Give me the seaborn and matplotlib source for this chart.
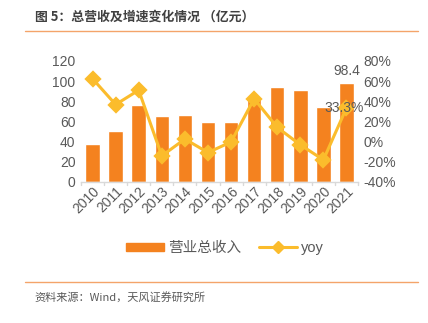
import matplotlib
matplotlib.use("Agg")
import matplotlib.pyplot as plt
from matplotlib.lines import Line2D
from matplotlib.patches import Patch
import seaborn as sns
import pandas as pd

years = ["2010", "2011", "2012", "2013", "2014", "2015",
         "2016", "2017", "2018", "2019", "2020", "2021"]
revenue = [37.4, 50.7, 76.4, 65.0, 66.4, 59.4, 59.0, 83.0, 94.0, 91.0, 73.8, 98.4]
yoy = [62.4, 36.7, 51.0, -14.3, 2.4, -11.0, -0.5, 42.4, 14.0, -3.3, -18.3, 33.3]
right_ticks = [-40, -20, 0, 20, 40, 60, 80]

sns.set_theme(style="white")
plt.rcParams["font.family"] = ["Liberation Sans", "Noto Sans CJK SC", "DejaVu Sans"]

BAR = "#F4821F"
LINE = "#FBBC2C"
GREY = "#595959"

df = pd.DataFrame({"year": years, "revenue": revenue, "yoy": yoy})

fig = plt.figure(figsize=(4.28, 3.23), dpi=100)
ax = fig.add_axes([81 / 428, 1 - 181.7 / 323, 277 / 428, 120.7 / 323])

sns.barplot(data=df, x="year", y="revenue", color=BAR, width=0.63,
            saturation=1, ax=ax)
ax.set_ylim(0, 120)
ax.set_yticks(range(0, 121, 20))
ax.set_xlabel("")
ax.set_ylabel("")
ax.tick_params(axis="y", labelsize=10, labelcolor=GREY, length=0, pad=4)
ax.tick_params(axis="x", labelsize=10, labelcolor=GREY, length=0, pad=2)
for lab in ax.get_xticklabels():
    lab.set_rotation(45)
    lab.set_ha("right")
    lab.set_rotation_mode("anchor")
for side in ["top", "left", "right"]:
    ax.spines[side].set_visible(False)
ax.spines["bottom"].set_color("#D9D9D9")
ax.spines["bottom"].set_linewidth(1)
# boundary tick marks between categories
for i in range(len(years) + 1):
    ax.plot([i - 0.5, i - 0.5], [0, -3], color="#D9D9D9", lw=1,
            transform=ax.get_xaxis_transform() if False else ax.transData,
            clip_on=False)
ax.set_xlim(-0.5, len(years) - 0.5)

ax2 = ax.twinx()
sns.pointplot(data=df, x="year", y="yoy", color=LINE, markers="D",
              markersize=7, linewidth=2.2, ax=ax2)
ax2.set_ylim(-40, 80)
ax2.set_yticks(right_ticks)
ax2.set_yticklabels([f"{t}%" for t in right_ticks])
ax2.set_ylabel("")
ax2.tick_params(axis="y", labelsize=10, labelcolor=GREY, length=0, pad=4)
for side in ["top", "left", "right", "bottom"]:
    ax2.spines[side].set_visible(False)
ax2.set_xlim(-0.5, len(years) - 0.5)

# value labels on the last year
last = len(years) - 1
ax.text(last, revenue[-1] + 5, f"{revenue[-1]:.1f}", ha="center", va="bottom",
        fontsize=10, color=GREY)
ax2.text(last - 0.1, yoy[-1], f"{yoy[-1]:.1f}%", ha="center", va="center",
         fontsize=10, color=GREY)

handles = [Patch(facecolor=BAR, edgecolor=BAR),
           Line2D([0], [0], color=LINE, lw=2.2, marker="D", markersize=6)]
fig.legend(handles, ["营业总收入", "yoy"], loc="center",
           bbox_to_anchor=(225 / 428, 1 - 248 / 323), ncol=2, frameon=False,
           fontsize=10.5, labelcolor=GREY, handlelength=2.6, handleheight=0.45,
           columnspacing=1.2, handletextpad=0.3)

fig.text(35 / 428, 1 - 17 / 323, "图 5：总营收及增速变化情况 （亿元）",
         fontsize=9.3, fontweight="bold", color="#404040", va="center",
         family=["Noto Sans CJK SC", "DejaVu Sans"])
fig.add_artist(Line2D([25 / 428, 418 / 428], [1 - 31 / 323, 1 - 31 / 323],
                      color="#F4A46A", lw=1))
fig.add_artist(Line2D([25 / 428, 418 / 428], [1 - 282 / 323, 1 - 282 / 323],
                      color="#F4A46A", lw=1))
fig.text(34 / 428, 1 - 297 / 323, "资料来源：Wind，天风证券研究所",
         fontsize=8, color=GREY, va="center",
         family=["Noto Sans CJK SC", "DejaVu Sans"])

fig.savefig("out.png", dpi=100, facecolor="white")
